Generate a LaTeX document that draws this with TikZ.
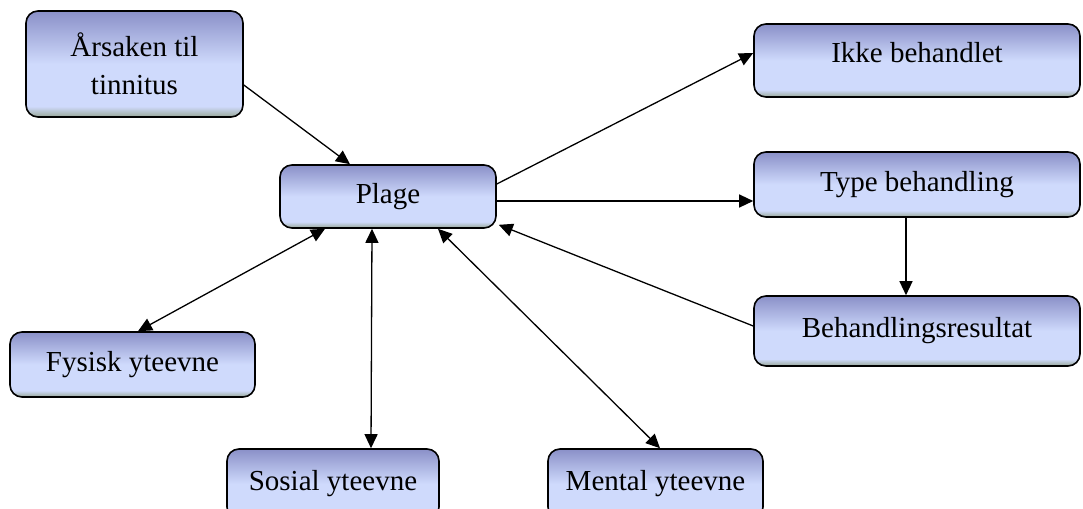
\documentclass[tikz,border=0pt]{standalone}
\usepackage{fontspec}
\setmainfont{Liberation Serif}
\usetikzlibrary{arrows.meta}
\definecolor{topblue}{HTML}{8A90C8}
\definecolor{lightblue}{HTML}{CFDAFC}
\definecolor{botgreen}{HTML}{98A898}
\pgfdeclareverticalshading{boxshade}{100bp}{color(0bp)=(botgreen); color(25bp)=(botgreen); color(30bp)=(lightblue); color(50bp)=(lightblue); color(75bp)=(topblue); color(100bp)=(topblue)}
\tikzset{
  box/.style={draw=black, line width=0.8pt, rounded corners=6pt, shading=boxshade,
    align=center, inner sep=0pt, font=\fontsize{14.5pt}{19pt}\selectfont},
  conn/.style={line width=0.65pt, -{Triangle[length=7pt,width=6.5pt]}},
  biconn/.style={line width=0.65pt, {Triangle[length=7pt,width=6.5pt]}-{Triangle[length=7pt,width=6.5pt]}}
}
\begin{document}
\begin{tikzpicture}[x=0.5pt,y=-0.5pt]
\useasboundingbox (0,0) rectangle (1083,509);
\clip (0,0) rectangle (1083,509);
\node[box, minimum width=108.5pt, minimum height=53pt] (cause) at (134.5,64) {Årsaken til\\tinnitus};
\node[box, minimum width=108pt, minimum height=31.5pt] (plage) at (388,196.5) {Plage};
\node[box, minimum width=163pt, minimum height=36.5pt] (ikke) at (917,60.5) {\raisebox{8pt}{Ikke behandlet}};
\node[box, minimum width=163pt, minimum height=32.5pt] (type) at (917,184.5) {Type behandling};
\node[box, minimum width=163pt, minimum height=35pt] (res) at (917,331) {Behandlingsresultat};
\node[box, minimum width=122.5pt, minimum height=32.5pt] (fys) at (132.5,364.5) {Fysisk yteevne};
\node[box, minimum width=106pt, minimum height=35pt] (sos) at (333,484) {Sosial yteevne};
\node[box, minimum width=107.5pt, minimum height=35pt] (men) at (655.5,484) {Mental yteevne};

\draw[conn] ([yshift=-10.5pt]cause.east) -- ([xshift=-19pt]plage.north);
\draw[conn] ([yshift=6.25pt]plage.east) -- ([yshift=3.75pt]ikke.west);
\draw[conn] ([yshift=-2.25pt]plage.east) -- ([yshift=-8.25pt]type.west);
\draw[conn] ([xshift=-5.5pt]type.south) -- ([xshift=-5.5pt]res.north);
\draw[conn] ([yshift=2.5pt]res.west) -- ([xshift=1pt,yshift=2pt]plage.south east);
\draw[biconn] ([xshift=-31.5pt]plage.south) -- ([xshift=2.75pt]fys.north);
\draw[biconn] ([xshift=-8pt]plage.south) -- ([xshift=19pt]sos.north);
\draw[biconn] ([xshift=25pt]plage.south) -- ([xshift=2.25pt]men.north);
\end{tikzpicture}
\end{document}
